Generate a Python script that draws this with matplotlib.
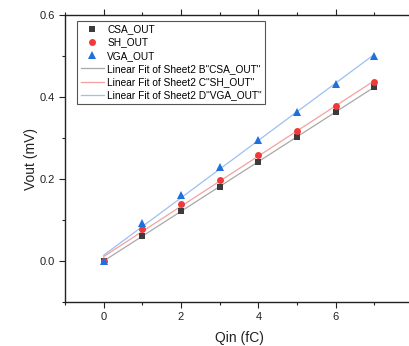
import numpy as np
import matplotlib
matplotlib.use("Agg")
import matplotlib.pyplot as plt
from matplotlib.ticker import MultipleLocator

plt.rcParams['font.family'] = ['Liberation Sans', 'DejaVu Sans']

qin = [0, 1, 2, 3, 4, 5, 6, 7]
csa_out = [0.0, 0.061, 0.121, 0.181, 0.242, 0.303, 0.364, 0.424]
sh_out = [0.0, 0.077, 0.139, 0.198, 0.258, 0.317, 0.377, 0.436]
vga_out = [0.0, 0.092, 0.160, 0.229, 0.295, 0.364, 0.432, 0.500]

series = [
    ("CSA_OUT", csa_out, 's', '#3c3c3c', '#a8a8a8', 'B'),
    ("SH_OUT", sh_out, 'o', '#ee3a3a', '#f5a0a0', 'C'),
    ("VGA_OUT", vga_out, '^', '#1f6fdc', '#9cc0f2', 'D'),
]

fig = plt.figure(figsize=(4.10, 3.46), dpi=100)
ax = fig.add_axes([65 / 410, 44 / 346, 348 / 410, 287 / 346])

x = np.array(qin, dtype=float)
marker_handles = []
line_handles = []
for name, vals, mk, mcol, lcol, col_id in series:
    y = np.array(vals)
    slope, icpt = np.polyfit(x, y, 1)
    xs = np.array([x.min(), x.max()])
    ln, = ax.plot(xs, slope * xs + icpt, color=lcol, lw=0.9, zorder=2,
                  label=f'Linear Fit of Sheet2 {col_id}"{name}"')
    line_handles.append(ln)
for name, vals, mk, mcol, lcol, col_id in series:
    ms = 5.5 if mk == '^' else 5
    h, = ax.plot(qin, vals, linestyle='none', marker=mk, ms=ms, color=mcol,
                 markeredgewidth=0, zorder=3, label=name)
    marker_handles.append(h)

ax.set_xlim(-1, 8)
ax.set_ylim(-0.1, 0.6)
ax.xaxis.set_major_locator(MultipleLocator(2))
ax.xaxis.set_minor_locator(MultipleLocator(1))
ax.yaxis.set_major_locator(MultipleLocator(0.2))
ax.yaxis.set_minor_locator(MultipleLocator(0.1))
ax.yaxis.set_major_formatter(matplotlib.ticker.FormatStrFormatter('%.1f'))

ax.tick_params(which='both', direction='out', top=True, right=True,
               labelsize=8, colors='#222222', width=0.8)
ax.tick_params(which='major', length=4)
ax.tick_params(which='minor', length=2.5)
for s in ax.spines.values():
    s.set_linewidth(1.0)
    s.set_color('#222222')

ax.set_xlabel('Qin (fC)', fontsize=10, color='#222222', labelpad=6)
ax.set_ylabel('Vout (mV)', fontsize=10, color='#222222', labelpad=1)

leg = ax.legend(handles=marker_handles + line_handles, loc='upper left',
                bbox_to_anchor=(0.035, 0.98), fontsize=7.3, frameon=True,
                fancybox=False, edgecolor='#555555', framealpha=1,
                handlelength=2.3, handletextpad=0.3, borderpad=0.35,
                labelspacing=0.32, borderaxespad=0)
leg.get_frame().set_linewidth(0.8)

fig.savefig('out.png', dpi=100)
